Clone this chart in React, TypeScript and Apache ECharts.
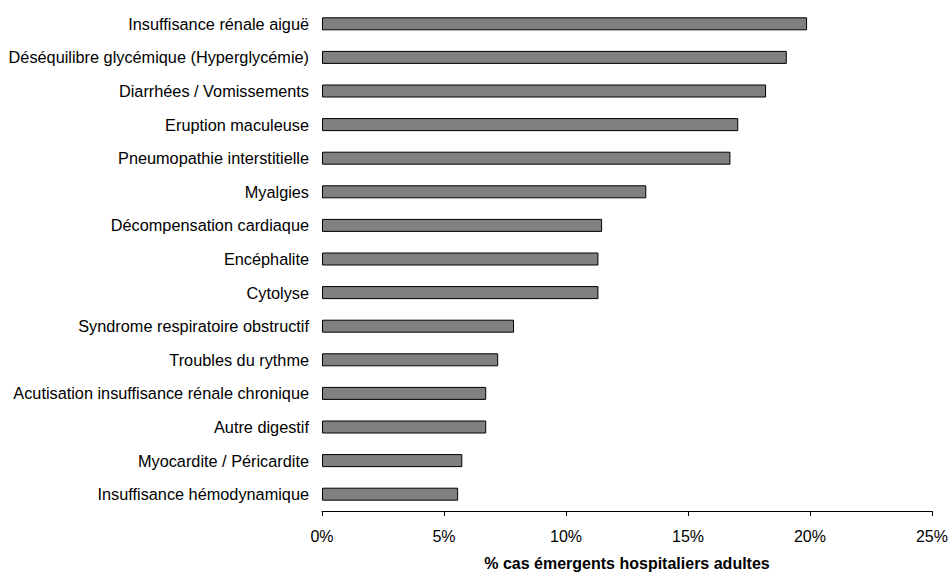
import React, { useEffect, useRef } from "react";
import * as echarts from "echarts";

const categories = [
  "Insuffisance rénale aiguë",
  "Déséquilibre glycémique (Hyperglycémie)",
  "Diarrhées / Vomissements",
  "Eruption maculeuse",
  "Pneumopathie interstitielle",
  "Myalgies",
  "Décompensation cardiaque",
  "Encéphalite",
  "Cytolyse",
  "Syndrome respiratoire obstructif",
  "Troubles du rythme",
  "Acutisation insuffisance rénale chronique",
  "Autre digestif",
  "Myocardite / Péricardite",
  "Insuffisance hémodynamique",
];

const values = [19.88, 19.05, 18.2, 17.06, 16.74, 13.29, 11.48, 11.33, 11.33, 7.87, 7.22, 6.73, 6.73, 5.75, 5.58];

const xTicks = { min: 0, max: 25, interval: 5 };
const xAxisTitle = "% cas émergents hospitaliers adultes";

const FONT = 'Arial, "Liberation Sans", Helvetica, sans-serif';

export default function App() {
  const ref = useRef<HTMLDivElement>(null);
  useEffect(() => {
    document.body.style.margin = "0";
    if (!ref.current) return;
    const chart = echarts.init(ref.current, null, { renderer: "svg" });
    chart.setOption({
      animation: false,
      backgroundColor: "#ffffff",
      grid: { left: 322, right: 17, top: 7, bottom: 58, containLabel: false },
      xAxis: {
        type: "value",
        min: xTicks.min,
        max: xTicks.max,
        interval: xTicks.interval,
        name: xAxisTitle,
        nameLocation: "middle",
        nameGap: 44,
        nameTextStyle: { fontFamily: FONT, fontSize: 16, fontWeight: "bold", color: "#000" },
        axisLine: { show: true, lineStyle: { color: "#000", width: 1 } },
        axisTick: { show: true, inside: false, length: 5, lineStyle: { color: "#000" } },
        axisLabel: { formatter: "{value}%", margin: 17, fontFamily: FONT, fontSize: 16, color: "#000" },
        splitLine: { show: false },
      },
      yAxis: {
        type: "category",
        data: categories,
        inverse: true,
        axisLine: { show: false },
        axisTick: { show: false },
        axisLabel: { margin: 13, fontFamily: FONT, fontSize: 16.3, color: "#000" },
        splitLine: { show: false },
      },
      series: [
        {
          type: "bar",
          data: values,
          barWidth: 13,
          itemStyle: { color: "#808080", borderColor: "#000", borderWidth: 1 },
        },
      ],
    });
    return () => chart.dispose();
  }, []);
  return <div ref={ref} style={{ width: 951, height: 576 }} />;
}
